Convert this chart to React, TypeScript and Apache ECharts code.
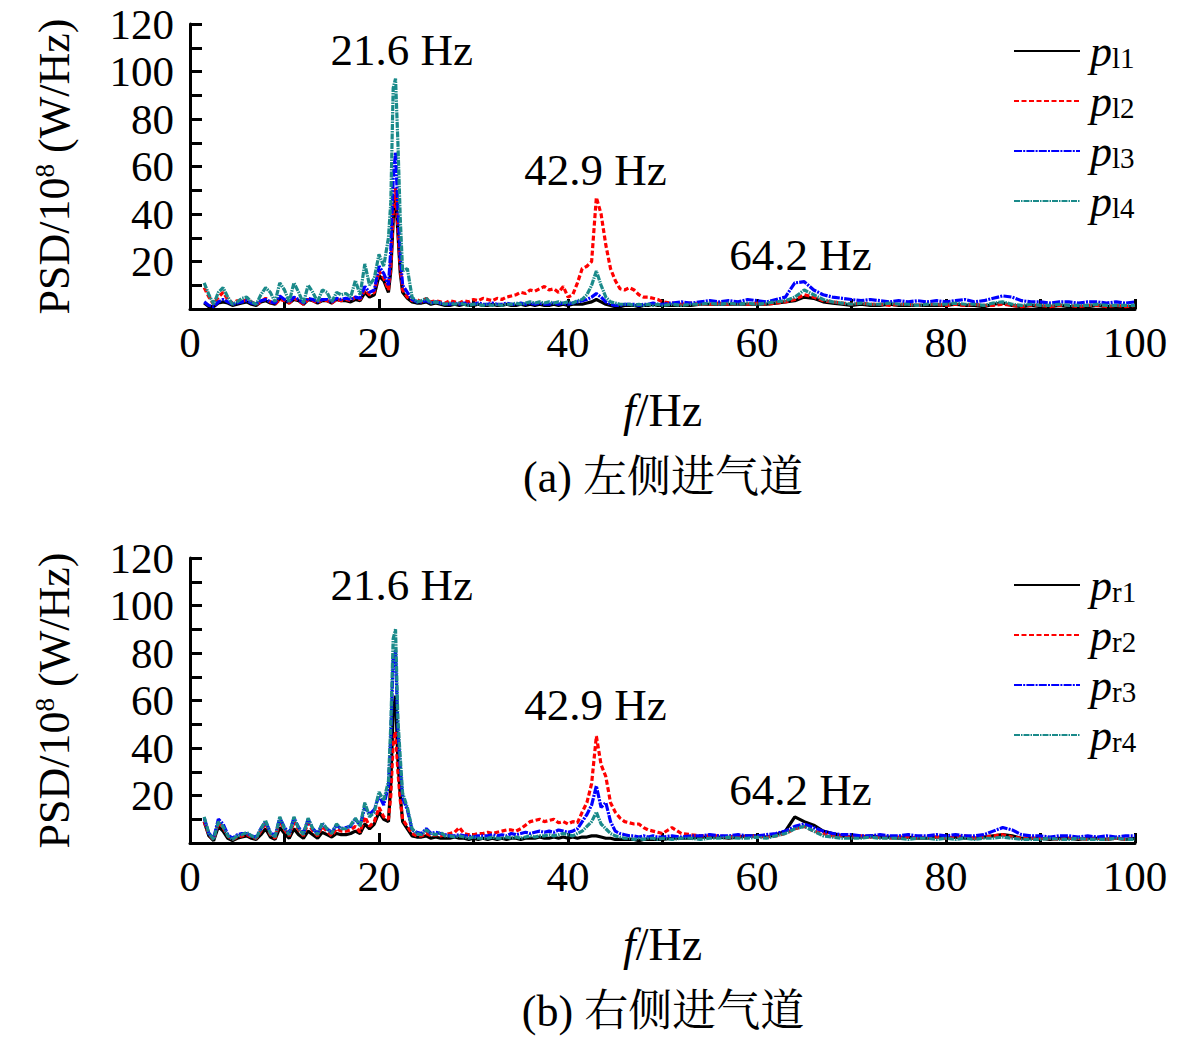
import React, { useEffect, useRef } from "react";
import * as echarts from "echarts";

const FONT = "Liberation Serif, Noto Serif CJK SC, Noto Sans CJK SC, serif";

// Frequency bins (Hz): 0.5 Hz steps, with extra bins around the 21.6 Hz peak, then 1 Hz from 50 to 100
const peakBins = [21.25, 21.5, 21.75, 22, 22.25];
const freq: number[] = [];
for (let i = 0; i < 40; i++) freq.push(1.5 + i * 0.5);
peakBins.forEach((f) => freq.push(f));
for (let i = 0; i < 55; i++) freq.push(22.5 + i * 0.5);
for (let f = 50; f <= 100; f++) freq.push(f);

const xTicks = [0, 20, 40, 60, 80, 100];
const yTicks = [20, 40, 60, 80, 100, 120];

// (a) left inlet
const pl1 = [
  2.5, 1, 1, 2.5, 3, 2.5, 1.5, 2, 2.5, 3,
  2, 1.5, 3, 3.5, 2.5, 2, 4.5, 3.5, 2.5, 4,
  3.5, 2, 4, 3.5, 2.5, 3.5, 3.5, 2.5, 4, 3.5,
  3.5, 3, 4, 3.5, 7, 5, 6, 14, 12, 7,
  16, 37, 48, 32, 15, 7, 4.5, 3, 2.5, 2.5, 3, 2, 2.5,
  2, 1.5, 1.5, 2, 1.5, 2, 1.5, 1.5, 2, 1.5,
  1.5, 2, 1.5, 1.5, 2, 1.5, 1.5, 2, 1.5, 2,
  1.5, 2, 1.5, 1.5, 2, 1.5, 2, 1.5, 2, 2,
  2, 2.5, 3, 4, 3, 2, 1.5, 1, 1, 1.5,
  1.5, 1.5, 1, 1.5, 1.5, 2, 1.5,
  1.5, 1.5, 1.5, 1.5, 2, 2, 2, 2, 2, 2,
  2, 2, 2.5, 3, 3.5, 5, 4.5, 3, 2.5, 2,
  1.5, 2, 1.5, 1.5, 2, 1.5, 1.5, 1.5, 1.5, 1.5,
  1.5, 2, 1.5, 1.5, 1, 2, 2.5, 1.5, 1, 1.5,
  1, 1, 1.5, 1, 1, 1, 1.5, 1, 1, 1, 1,
];
const pl2 = [
  9, 5, 2, 5, 7, 4, 2.5, 3.5, 3, 4,
  3, 2, 3, 4.5, 3, 2, 4, 3.5, 2.5, 4.5,
  3.5, 2, 4, 3.5, 2.5, 4, 3.5, 2.5, 4, 3.5,
  4, 3.5, 5, 4, 8, 6, 7, 16, 13, 8,
  18, 40, 51, 34, 17, 8, 5, 3.5, 4, 3, 4.5, 3, 3.5,
  3, 2.5, 3.5, 3, 2.5, 3.5, 3, 4, 3.5, 4.5,
  4, 3.5, 4.5, 4, 5, 5.5, 6, 7, 6.5, 8,
  7.5, 8.5, 9.5, 8, 8.5, 7, 9.5, 5, 6, 11,
  17, 18, 20, 47, 40, 27, 17, 12, 8.5, 8,
  9, 8, 6, 5, 5, 4.5, 4,
  3, 2.5, 2, 2.5, 2, 2, 2.5, 2, 2.5, 2,
  2.5, 2, 2.5, 3, 4, 6, 5, 3.5, 3, 2.5,
  2, 2.5, 2, 2, 1.5, 2, 2, 1.5, 2, 2,
  1.5, 2, 1.5, 2, 1.5, 1.5, 2, 1.5, 1, 1.5,
  1.5, 1, 1.5, 1.5, 1, 1.5, 1.5, 1, 1.5, 1, 1.5,
];
const pl3 = [
  3, 1.5, 1, 3, 4, 3, 2, 2.5, 3, 3.5,
  2.5, 2, 3.5, 4, 3, 2.5, 5.5, 4, 3, 5,
  4, 2.5, 4.5, 4, 3, 4, 4, 3, 4.5, 4,
  4.5, 4, 5, 4.5, 9.5, 7, 8, 18, 15, 10,
  25, 55, 66, 42, 22, 10, 7, 4, 3, 3, 3.5, 2.5, 3,
  2.5, 2, 2, 2.5, 2, 2.5, 2, 2, 2.5, 2,
  2, 2.5, 2, 2, 2.5, 2, 2, 2.5, 2, 2.5,
  2, 2.5, 2, 2, 2.5, 2, 2.5, 2, 2.5, 3,
  3.5, 4, 5, 6.5, 5, 3, 2, 1.5, 1.5, 2,
  2, 2, 1.5, 2, 2, 2.5, 2,
  2, 2.5, 3, 2.5, 3, 3.5, 3, 3.5, 3, 4,
  3.5, 3, 4, 5, 11, 11.5, 8, 6, 5, 4.5,
  4, 3.5, 4, 3.5, 3, 3.5, 3, 3.5, 3, 3.5,
  3, 3.5, 4, 3, 3.5, 4.5, 5.5, 5, 3.5, 3,
  3, 2.5, 3, 3, 2.5, 3, 3, 2.5, 3, 2.5, 3,
];
const pl4 = [
  11, 6, 2, 7, 9, 5, 2, 3, 4.5, 5,
  3, 2, 6, 9, 7, 3, 11, 8, 3, 11,
  7, 2.5, 10, 7, 3, 8, 7, 3, 7, 6,
  6.5, 5, 12, 6, 19, 10, 13, 23, 18, 30,
  45, 93, 97, 70, 38, 16, 17, 5, 3, 3.5, 4.5, 2.5, 3,
  2.5, 2, 2.5, 2, 2.5, 2, 1.5, 2, 2, 1.5,
  2, 1.5, 2, 1.5, 2, 2, 2.5, 2, 2.5, 3,
  2.5, 3, 2.5, 3, 2.5, 3, 2.5, 3, 2.5, 3.5,
  4, 6, 10, 16, 10, 5, 3, 2.5, 2, 2,
  2, 1.5, 2, 1.5, 2, 1.5, 2,
  1.5, 2, 1.5, 2, 2, 2.5, 2, 2.5, 2, 2.5,
  2, 2.5, 3, 3.5, 5, 8, 6, 4, 3, 2.5,
  2, 2.5, 2, 2, 2.5, 2, 2, 1.5, 2, 2,
  2, 2.5, 2, 2, 1.5, 2.5, 3, 2, 1.5, 2,
  1.5, 1.5, 2, 1.5, 1.5, 1.5, 2, 1.5, 1.5, 1.5, 1.5,
];

// (b) right inlet
const pr1 = [
  9, 3, 1, 7, 5, 2, 1, 2, 2.5, 3,
  2, 1.5, 3.5, 6, 2.5, 1.5, 6.5, 4, 2, 6,
  3.5, 2, 5, 3.5, 2, 4.5, 3.5, 2.5, 4, 3.5,
  3.5, 4, 5, 4, 8, 6, 8, 13, 10, 9,
  25, 55, 62, 35, 20, 9, 6, 3, 2.5, 2.5, 3, 2, 2.5,
  2, 2, 2, 2.5, 2, 2, 1.5, 2, 1.5, 2,
  1.5, 2, 1.5, 2, 1.5, 2, 2, 1.5, 2, 2,
  2, 2.5, 2, 2, 2.5, 2, 2.5, 2, 2.5, 2,
  2.5, 2.5, 3, 3, 2.5, 2, 2, 1.5, 1.5, 1.5,
  1.5, 1.5, 1, 1.5, 1.5, 1.5, 1.5,
  1.5, 2, 2, 2, 2.5, 2.5, 2.5, 2, 2.5, 3,
  3, 2.5, 3.5, 5, 11, 9, 7.5, 5, 4, 3,
  2.5, 2.5, 3, 2.5, 2.5, 2, 2.5, 2, 2, 2.5,
  2, 2.5, 2, 2, 2.5, 3, 3.5, 3, 2, 2,
  2, 1.5, 2, 2, 1.5, 2, 2, 1.5, 2, 1.5, 2,
];
const pr2 = [
  9, 3.5, 1.5, 8.5, 6.5, 3, 1.5, 2.5, 3, 3.5,
  2.5, 2, 5, 8.5, 3.5, 2, 9.5, 5.5, 3, 9,
  5.5, 3, 8.5, 5, 3, 7, 5, 3, 6, 5,
  5, 5.5, 7, 4.5, 11, 7, 9, 15, 11, 10,
  20, 42, 47, 30, 18, 10, 7, 4, 3, 3, 4, 3, 3.5,
  3, 3.5, 4, 4.5, 6.5, 4, 3.5, 3.5, 4, 4,
  4.5, 4, 4.5, 5, 5.5, 5.5, 5, 6, 7.5, 9,
  9.5, 10, 9, 9.5, 10, 8.5, 9, 8, 9, 8.5,
  13, 17, 25, 45, 33, 28, 17, 13, 10.5, 9,
  8.5, 8, 8, 6.5, 5.5, 5, 4.5,
  4, 6.5, 4, 3.5, 3, 3, 3, 2.5, 3, 2.5,
  3, 2.5, 3, 4, 6, 7, 5, 4, 3, 3,
  2.5, 3, 2.5, 2.5, 2, 2.5, 2.5, 2, 2.5, 2.5,
  2, 2.5, 3, 2, 2.5, 3, 3.5, 2.5, 2, 2,
  2, 2, 1.5, 2, 2, 1.5, 2, 1.5, 2, 1.5, 1.5,
];
const pr3 = [
  10.5, 4, 2, 10, 8, 3.5, 2, 3.5, 4, 4,
  3, 2.5, 6, 9, 4.5, 3, 10.5, 6.5, 4, 10.5,
  6.5, 4, 10, 6, 4, 8, 6, 4.5, 7.5, 6,
  6.5, 7, 10, 7.5, 15, 12, 14, 20, 16, 24,
  45, 78, 81, 48, 32, 19, 14, 5.5, 4.5, 4, 6, 4, 4.5,
  4, 3.5, 3, 3, 3.5, 3, 3, 2.5, 3, 3,
  3, 3.5, 3, 3.5, 3, 4, 3.5, 4, 4.5, 4,
  4.5, 5, 4.5, 5, 4.5, 5.5, 5, 4.5, 5, 6,
  9, 12, 16, 24, 15, 17, 9, 5, 4, 3.5,
  3, 3, 2.5, 3, 2.5, 3, 2.5,
  2.5, 3, 2.5, 3, 3, 3.5, 3, 3, 3.5, 3,
  3, 3.5, 4, 5, 7, 8, 6.5, 5, 4, 3.5,
  3.5, 3, 3, 3.5, 3, 3, 3.5, 3, 3, 3.5,
  3, 3.5, 3, 3, 3.5, 5, 6.5, 5.5, 3.5, 3,
  3, 2.5, 3, 3, 2.5, 3, 2.5, 3, 2.5, 3, 3,
];
const pr4 = [
  11, 4, 1.5, 9, 7, 3, 1.5, 3, 3.5, 4.5,
  3, 2, 6, 9.5, 4, 2.5, 11, 6, 3.5, 11,
  6, 3.5, 10.5, 6, 3.5, 8.5, 6, 4, 8, 6,
  6, 7.5, 10.5, 7, 17, 11, 13, 21.5, 18, 26,
  50, 86, 90, 52, 36, 21, 15, 6, 4, 3.5, 5.5, 4, 3.5,
  4.5, 3, 3, 2.5, 3, 2.5, 2, 2.5, 2, 2,
  2, 2.5, 2, 2, 2.5, 2, 2.5, 2, 2.5, 3,
  2.5, 3, 3, 3.5, 3, 3.5, 4, 3.5, 3, 4,
  5, 7, 9, 13, 8, 6, 4, 3, 2.5, 2,
  2, 1.5, 2, 1.5, 2, 2, 1.5,
  2, 1.5, 2, 2, 1.5, 2, 2, 2.5, 2, 2,
  2.5, 2, 3, 4, 6, 7, 5, 3, 2.5, 2,
  2, 2, 2.5, 2, 2, 2, 1.5, 2, 2, 1.5,
  2, 1.5, 2, 1.5, 2, 2, 2.5, 2, 1.5, 1.5,
  1.5, 2, 1.5, 1.5, 2, 1.5, 1.5, 1.5, 2, 1.5, 1.5,
];

const namesTop = ["pl1", "pl2", "pl3", "pl4"];
const namesBottom = ["pr1", "pr2", "pr3", "pr4"];
const valuesTop = [pl1, pl2, pl3, pl4];
const valuesBottom = [pr1, pr2, pr3, pr4];
const peakLabels = ["21.6 Hz", "42.9 Hz", "64.2 Hz"];
const captions = ["(a) 左侧进气道", "(b) 右侧进气道"];

const COLORS = ["#000000", "#ff0000", "#0000ff", "#1a8a8a"];
const DASHES: any[] = ["solid", [5, 2.5], [8, 1.2, 2, 1.2], [6, 1, 1.5, 1]];

export default function App() {
  const ref = useRef<HTMLDivElement>(null);
  useEffect(() => {
    if (!ref.current) return;
    const chart = echarts.init(ref.current, undefined, { renderer: "svg" });
    const gridTops = [24, 558];
    const gridH = 285;
    const grids = gridTops.map((t) => ({ left: 190, top: t, width: 945, height: gridH }));

    const xAxes = gridTops.map((_, gi) => ({
      type: "value",
      gridIndex: gi,
      min: 0,
      max: 100,
      interval: 10,
      axisLine: { show: true, onZero: false, lineStyle: { color: "#000", width: 3 } },
      axisTick: { show: true, inside: true, length: 10, lineStyle: { color: "#000", width: 3 } },
      axisLabel: {
        formatter: (v: number) => (xTicks.includes(v) ? String(v) : ""),
        fontSize: 43,
        fontFamily: FONT,
        color: "#000",
        margin: 12,
      },
      splitLine: { show: false },
      name: "{i|f}{n|/Hz}",
      nameLocation: "middle",
      nameGap: 77,
      nameTextStyle: {
        color: "#000",
        rich: {
          i: { fontSize: 46, fontFamily: FONT, fontStyle: "italic", color: "#000", lineHeight: 48 },
          n: { fontSize: 46, fontFamily: FONT, color: "#000", lineHeight: 48 },
        },
      },
    }));

    const yAxes = gridTops.map((_, gi) => ({
      type: "value",
      gridIndex: gi,
      min: 0,
      max: 120,
      interval: 10,
      axisLine: { show: true, onZero: false, lineStyle: { color: "#000", width: 3 } },
      axisTick: { show: true, inside: true, length: 12, lineStyle: { color: "#000", width: 3 } },
      axisLabel: {
        formatter: (v: number) => (yTicks.includes(v) ? String(v) : ""),
        fontSize: 43,
        fontFamily: FONT,
        color: "#000",
        margin: 16,
      },
      splitLine: { show: false },
      name: "{a|PSD/10}{b|8}{a| (W/Hz)}",
      nameLocation: "middle",
      nameRotate: 90,
      nameGap: 113,
      nameTextStyle: {
        color: "#000",
        rich: {
          a: { fontSize: 44, fontFamily: FONT, color: "#000", lineHeight: 46 },
          b: { fontSize: 27, fontFamily: FONT, color: "#000", lineHeight: 27, verticalAlign: "top" },
        },
      },
    }));

    const annotCoords = [
      [[22.4, 109], [42.9, 58.5], [64.6, 22.7]],
      [[22.4, 108.6], [42.9, 58], [64.6, 22.3]],
    ];

    const series: any[] = [];
    [valuesTop, valuesBottom].forEach((group, gi) => {
      const names = gi === 0 ? namesTop : namesBottom;
      group.forEach((vals, si) => {
        const s: any = {
          type: "line",
          name: names[si],
          xAxisIndex: gi,
          yAxisIndex: gi,
          data: freq.map((f, i) => [f, vals[i]]),
          symbol: "none",
          showSymbol: false,
          lineStyle: { color: COLORS[si], width: 3.2, type: DASHES[si] },
          itemStyle: { color: COLORS[si] },
          silent: true,
        };
        if (si === 3) {
          s.markPoint = {
            symbol: "rect",
            symbolSize: 1,
            silent: true,
            itemStyle: { color: "rgba(0,0,0,0)" },
            label: {
              show: true,
              position: "inside",
              formatter: (p: any) => p.name,
              fontSize: 45,
              fontFamily: FONT,
              color: "#000",
            },
            data: peakLabels.map((t, k) => ({ name: t, coord: annotCoords[gi][k] })),
          };
        }
        series.push(s);
      });
    });

    const legendRich = {
      p: {
        fontSize: 44, fontFamily: FONT, fontStyle: "italic", color: "#000",
        lineHeight: 44, verticalAlign: "bottom", padding: [0, 0, 0, 5],
      },
      s: { fontSize: 29, fontFamily: FONT, color: "#000", lineHeight: 12, verticalAlign: "bottom" },
    };
    const legends = [namesTop, namesBottom].map((names, gi) => ({
      orient: "vertical",
      left: 1013,
      top: gridTops[gi] + 5,
      padding: 0,
      itemWidth: 66,
      itemHeight: 3,
      itemGap: 6,
      itemStyle: { opacity: 0 },
      selectedMode: false,
      data: names,
      formatter: (n: string) => `{p|p}{s|${n.slice(1)}}`,
      textStyle: { color: "#000", fontFamily: FONT, rich: legendRich },
    }));

    chart.setOption({
      animation: false,
      backgroundColor: "#ffffff",
      grid: grids,
      xAxis: xAxes,
      yAxis: yAxes,
      legend: legends,
      series,
      graphic: captions.map((c, gi) => ({
        type: "text",
        x: 663,
        y: gridTops[gi] + 453,
        style: {
          text: c,
          fontSize: 44,
          fontFamily: FONT,
          fill: "#000",
          align: "center",
          verticalAlign: "middle",
        },
      })),
    });
    return () => chart.dispose();
  }, []);
  return (
    <div
      ref={ref}
      style={{ position: "absolute", left: 0, top: 0, width: 1181, height: 1040, background: "#fff" }}
    />
  );
}
